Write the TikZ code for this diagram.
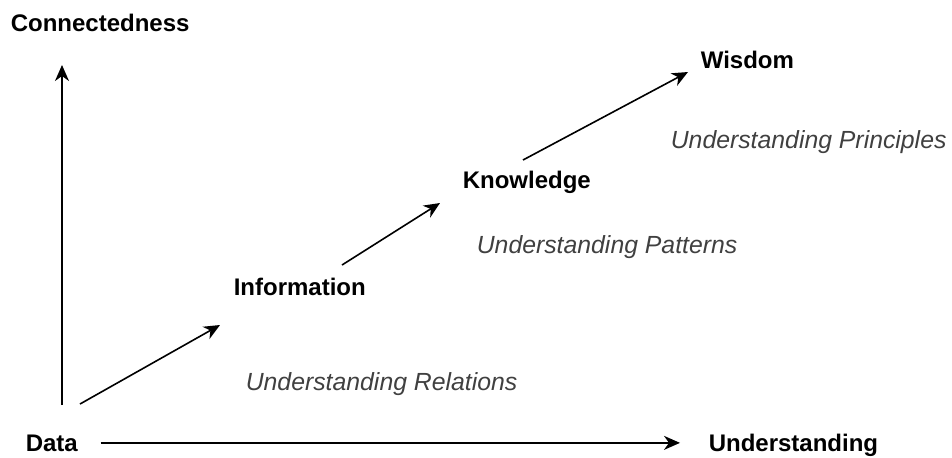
\documentclass[tikz,border=0pt]{standalone}
\usepackage{fontspec}
\setmainfont{Liberation Sans}
\usetikzlibrary{arrows.meta}
\definecolor{noteGray}{HTML}{404040}

\begin{document}
\begin{tikzpicture}[x=0.5pt, y=-0.5pt, line width=0.8pt,
		>={Stealth[length=8pt, width=7pt, inset=2.5pt]}]

		%文字
		\fontsize{12}{14}\selectfont	% 文字の大きさ
		\useasboundingbox (0,0) rectangle (952,457); %画像の大きさ
		\tikzset {
			styleStage/.style= {
				anchor=base west, inner sep=0pt, font=\bfseries
			},		%段階の名前は太字
			styleNote/.style= {
				anchor=base west, inner sep=0pt, text=noteGray,
				font=\fontsize{12.4}{14}\selectfont\itshape
			}		%説明は斜体で灰色
		};

		%軸の名前
		\node [styleStage] (connectedness) at (10, 31) {Connectedness};
		\node [styleStage] (understanding) at (708, 451) {Understanding};

		%ループで段階を書く
		\foreach 
			\stageName/\stageText/\x/\y in { 
				data/Data/25/451, information/Information/233/295,
				knowledge/Knowledge/462/188, wisdom/Wisdom/700/68 } {
			\node [styleStage] (\stageName) at (\x, \y) {\stageText};
		}

		%ループで説明を書く
		\foreach 
			\noteName/\noteText/\x/\y in { 
				relations/Relations/245/390, patterns/Patterns/476/253,
				principles/Principles/670/148 } {
			\node [styleNote] (\noteName) at (\x, \y) {Understanding \noteText};
		}

		%横軸
		\draw [->, shorten <=11pt, shorten >=14pt] 
			(data.east) -- (understanding.west |- data.east);

		%ループで矢印を書く
		\foreach 
			\arrowName/\sx/\sy/\ex/\ey in { 
				yaxis/62/405/62/65, dataInfo/80/404/220/325,
				infoKnow/342/265/440/203, knowWis/523/160/688/72 } {
			\coordinate (\arrowName Start) at (\sx, \sy);	%矢印の始点
			\coordinate (\arrowName End) at (\ex, \ey);	%矢印の終点
			\draw [->] (\arrowName Start) -- (\arrowName End);
		}

	\end{tikzpicture}
\end{document}
